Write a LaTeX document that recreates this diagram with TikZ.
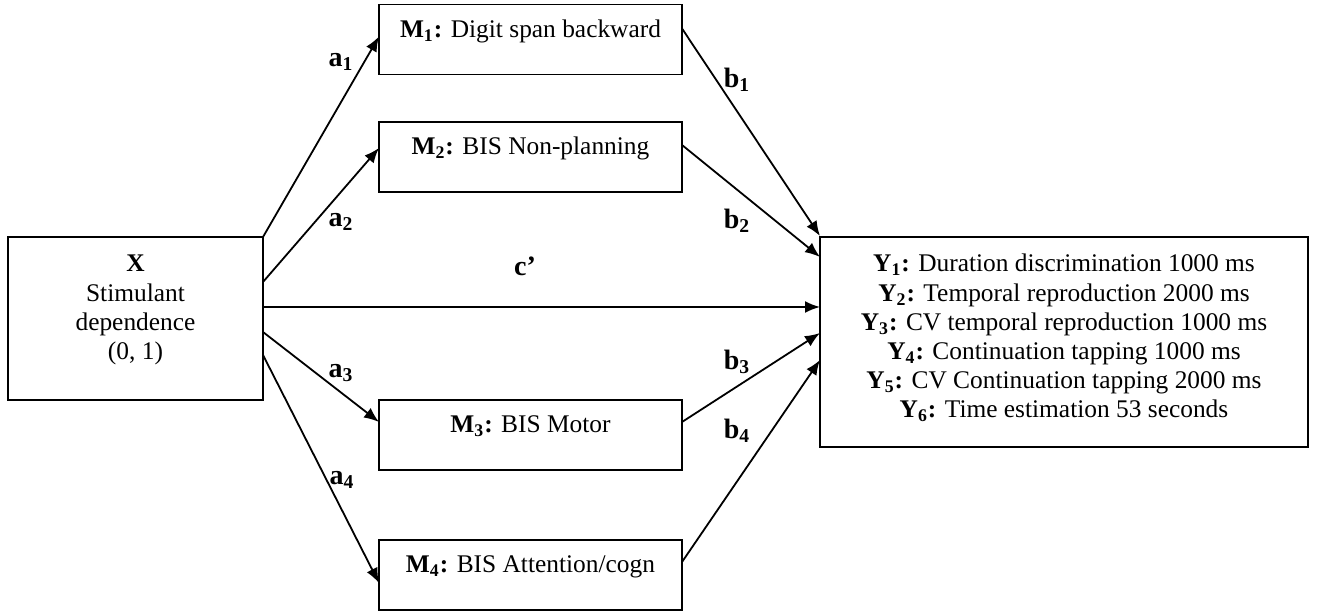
\documentclass[tikz,border=0pt]{standalone}
\usepackage{fontspec}
\setmainfont{Liberation Serif}
\usetikzlibrary{arrows.meta,calc}
\begin{document}
\begin{tikzpicture}[x=0.5pt,y=-0.5pt,
  box/.style={draw,line width=0.9pt,inner sep=0pt,outer sep=0pt},
  mbox/.style={box,minimum width=151.5pt,minimum height=35pt},
  txt/.style={anchor=base,inner sep=0pt,font=\fontsize{12.7}{14.6}\selectfont},
  lab/.style={inner sep=0pt,font=\fontsize{14}{16}\selectfont\bfseries},
  arr/.style={line width=0.9pt,-{Latex[length=7.5pt,width=6pt]}}]
\useasboundingbox (0,0) rectangle (1317,613);
% boxes
\node[box,minimum width=127.5pt,minimum height=81.5pt] (x) at (135.5,318.5) {};
\node[mbox] (m1) at (530.5,39.5) {};
\node[mbox] (m2) at (530.5,157) {};
\node[mbox] (m3) at (530.5,435) {};
\node[mbox] (m4) at (530.5,575) {};
\node[box,minimum width=244pt,minimum height=105pt] (y) at (1064,342) {};
% texts
\node[txt] (xt1) at (135.5,272) {\textbf{X}};
\node[txt] (xt2) at (135.5,302) {Stimulant};
\node[txt] (xt3) at (135.5,331) {dependence};
\node[txt] (xt4) at (135.5,360) {(0, 1)};
\node[txt] (m1t) at (530.5,38) {\textbf{M\textsubscript{1}:} Digit span backward};
\node[txt] (m2t) at (530.5,155) {\textbf{M\textsubscript{2}:} BIS Non-planning};
\node[txt] (m3t) at (530.5,433) {\textbf{M\textsubscript{3}:} BIS Motor};
\node[txt] (m4t) at (530.5,573) {\textbf{M\textsubscript{4}:} BIS Attention/cogn};
\node[txt] (y1) at (1064,272) {\textbf{Y\textsubscript{1}:} Duration discrimination 1000 ms};
\node[txt] (y2) at (1064,302) {\textbf{Y\textsubscript{2}:} Temporal reproduction 2000 ms};
\node[txt] (y3) at (1064,331) {\textbf{Y\textsubscript{3}:} CV temporal reproduction 1000 ms};
\node[txt] (y4) at (1064,360) {\textbf{Y\textsubscript{4}:} Continuation tapping 1000 ms};
\node[txt] (y5) at (1064,389) {\textbf{Y\textsubscript{5}:} CV Continuation tapping 2000 ms};
\node[txt] (y6) at (1064,418) {\textbf{Y\textsubscript{6}:} Time estimation 53 seconds};
% connectors
\draw[arr] (x.north east) -- ($(m1.west)+(0,-3)$);
\draw[arr] ($(x.north east)+(0,45)$) -- ($(m2.west)+(0,-9)$);
\draw[arr] ($(x.north east)+(0,70)$) -- ($(y.west)+(0,-35)$);
\draw[arr] ($(x.north east)+(0,95)$) -- ($(m3.west)+(0,-13)$);
\draw[arr] ($(x.north east)+(0,118)$) -- ($(m4.west)+(0,8)$);
\draw[arr] ($(m1.east)+(0,-11)$) -- ($(y.north west)+(0,-1)$);
\draw[arr] ($(m2.east)+(0,-12)$) -- ($(y.west)+(0,-85)$);
\draw[arr] ($(m3.east)+(0,-13)$) -- ($(y.west)+(0,-9)$);
\draw[arr] ($(m4.east)+(0,-13)$) -- ($(y.west)+(0,18)$);
% labels
\node[lab] (la1) at (341,62) {a\textsubscript{1}};
\node[lab] (la2) at (341,222) {a\textsubscript{2}};
\node[lab] (la3) at (341,373) {a\textsubscript{3}};
\node[lab] (la4) at (342,480) {a\textsubscript{4}};
\node[lab] (lc) at (525,266) {c’};
\node[lab] (lb1) at (737,80) {b\textsubscript{1}};
\node[lab] (lb2) at (737,221) {b\textsubscript{2}};
\node[lab] (lb3) at (737,362) {b\textsubscript{3}};
\node[lab] (lb4) at (737,431) {b\textsubscript{4}};
\end{tikzpicture}
\end{document}
